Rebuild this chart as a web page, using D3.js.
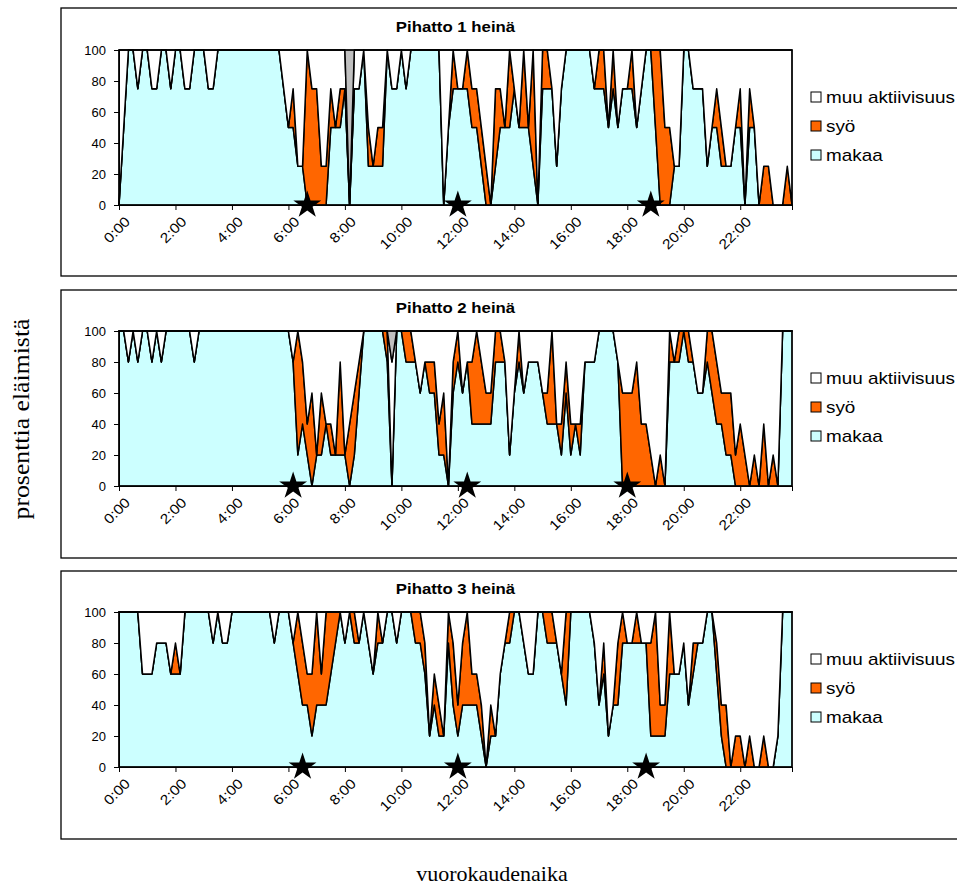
<!DOCTYPE html>
<html>
<head>
<meta charset="utf-8">
<script src="https://cdn.jsdelivr.net/npm/d3@7"></script>
<style>
  body { margin: 0; background: #fff; }
  svg { display: block; }
</style>
</head>
<body>
<div id="chart"></div>
<script>
// 10 minuutin havainnot 0:00 - 23:50
const times = d3.range(144).map(i => `${Math.floor(i / 6)}:${String((i % 6) * 10).padStart(2, "0")}`);
const tickLabels = ["0:00", "2:00", "4:00", "6:00", "8:00", "10:00", "12:00", "14:00", "16:00", "18:00", "20:00", "22:00"];
const yTicks = [0, 20, 40, 60, 80, 100];
const seriesNames = ["muu aktiivisuus", "syö", "makaa"];
const titles = ["Pihatto 1 heinä", "Pihatto 2 heinä", "Pihatto 3 heinä"];

// Pihatto 1
const makaa1 = [0,50,100,100,75,100,100,75,75,100, 100,75,100,100,75,75,100,100,100,75,
  75,100,100,100,100,100,100,100,100,100, 100,100,100,100,100,75,50,50,25,25,
  0,0,0,0,0,50,50,50,75,0, 75,75,100,25,25,25,25,100,75,75,
  100,75,100,100,100,100,100,100,100,0, 50,75,75,75,75,50,50,25,0,0,
  25,50,50,50,75,50,50,50,25,0, 75,75,75,25,75,100,100,100,100,100,
  100,75,75,75,50,75,50,75,75,75, 50,75,100,100,50,0,0,0,25,25,
  100,100,75,75,75,25,50,50,25,25, 25,50,50,0,50,50,0,0,0,0, 0,0,0,0];
const syo1 = [0,0,0,0,0,0,0,0,0,0, 0,0,0,0,0,0,0,0,0,0,
  0,0,0,0,0,0,0,0,0,0, 0,0,0,0,0,0,0,25,0,0,
  100,75,75,25,25,25,0,25,0,0, 0,0,0,25,0,25,25,0,0,0,
  0,0,0,0,0,0,0,0,0,0, 0,25,0,0,25,25,25,25,25,0,
  50,25,0,50,0,0,50,0,75,0, 25,25,0,0,0,0,0,0,0,0,
  0,0,25,25,0,25,0,0,0,25, 0,0,0,0,50,100,50,50,0,0,
  0,0,0,0,0,0,0,25,25,0, 0,0,25,0,25,0,0,25,25,0, 0,0,25,0];
const harmaa1 = [[49, 100]];
const tahdet1 = ["6:40", "12:00", "18:50"];

// Pihatto 2
const makaa2 = [100,100,80,100,80,100,100,80,100,80, 100,100,100,100,100,100,80,100,100,100,
  100,100,100,100,100,100,100,100,100,100, 100,100,100,100,100,100,100,80,20,40,
  20,0,20,20,40,20,20,20,20,0, 20,60,100,100,100,100,100,80,0,100,
  100,80,80,80,60,80,60,60,20,20, 0,60,80,60,80,40,40,40,40,40,
  80,80,80,20,60,80,60,80,80,80, 60,40,40,40,20,60,20,40,20,80,
  80,80,100,100,100,100,80,0,0,0, 0,0,0,0,0,0,0,80,80,80,
  100,80,80,60,60,80,60,40,40,20, 20,0,0,0,0,0,0,0,0,0, 0,100,100,100];
const syo2 = [0,0,0,0,0,0,0,0,0,0, 0,0,0,0,0,0,0,0,0,0,
  0,0,0,0,0,0,0,0,0,0, 0,0,0,0,0,0,0,0,80,40,
  20,60,0,40,0,20,0,60,0,40, 40,20,0,0,0,0,0,20,0,0,
  0,20,20,0,0,0,20,20,20,40, 0,20,20,0,0,40,60,40,20,20,
  20,20,0,0,0,20,0,0,0,0, 0,20,60,0,20,20,20,0,20,0,
  0,0,0,0,0,0,0,60,60,60, 80,40,40,20,0,20,0,20,0,20,
  0,20,0,0,0,20,40,40,20,40, 40,20,40,20,0,20,0,40,0,20, 0,0,0,0];
const harmaa2 = [[58, 20]];
const tahdet2 = ["6:10", "12:20", "18:00"];

// Pihatto 3
const makaa3 = [100,100,100,100,100,60,60,60,80,80, 80,60,60,60,100,100,100,100,100,100,
  80,100,80,80,100,100,100,100,100,100, 100,100,100,80,100,100,100,80,60,40,
  40,20,40,40,40,60,80,100,80,100, 80,80,100,80,60,80,80,100,100,80,
  100,100,100,80,80,60,20,40,20,20, 80,40,20,40,40,40,40,20,0,20,
  20,60,80,80,100,100,80,60,60,100, 100,80,80,80,60,40,100,100,100,100,
  100,80,40,60,20,40,40,80,80,80, 80,80,80,20,20,20,20,60,60,60,
  80,40,60,80,80,100,100,60,20,0, 0,0,0,0,0,0,0,0,0,0, 20,100,100,100];
const syo3 = [0,0,0,0,0,0,0,0,0,0, 0,0,20,0,0,0,0,0,0,0,
  0,0,0,0,0,0,0,0,0,0, 0,0,0,0,0,0,0,0,40,40,
  20,40,60,20,60,40,20,0,0,0, 20,0,0,0,0,20,0,0,0,0,
  0,0,0,20,20,20,0,20,20,0, 20,40,20,40,60,20,20,20,0,20,
  0,0,0,20,0,0,0,0,0,0, 0,20,20,0,0,60,0,0,0,0,
  0,0,0,20,0,0,40,20,0,0, 20,0,0,60,80,20,20,40,0,0,
  0,0,20,0,0,0,0,20,20,40, 0,20,20,0,20,0,0,20,0,0, 0,0,0,0];
const harmaa3 = [];
const tahdet3 = ["6:30", "12:00", "18:40"];

const panels = [
  { makaa: makaa1, syo: syo1, harmaa: harmaa1, tahdet: tahdet1 },
  { makaa: makaa2, syo: syo2, harmaa: harmaa2, tahdet: tahdet2 },
  { makaa: makaa3, syo: syo3, harmaa: harmaa3, tahdet: tahdet3 }
];

const colors = { makaa: "#CCFFFF", syo: "#FF6600", muu: "#FFFFFF", harmaa: "#C0C0C0" };
const legendColors = ["#FFFFFF", "#FF6600", "#CCFFFF"];

const sans = "'Liberation Sans', Arial, sans-serif";
const serif = "'Liberation Serif', 'Times New Roman', serif";

const plotLeft = 119, plotRight = 792, plotH = 155;
const plotTops = [50, 331, 612];
const boxTops = [8, 290, 571];

const svg = d3.select("#chart").append("svg")
  .attr("width", 957)
  .attr("height", 888)
  .style("font-family", sans);

const x = d3.scalePoint().domain(times).range([plotLeft, plotRight]);

panels.forEach((p, k) => {
  const top = plotTops[k];
  const y = d3.scaleLinear().domain([0, 100]).range([top + plotH, top]);

  // kehys
  svg.append("rect")
    .attr("x", 61).attr("y", boxTops[k])
    .attr("width", 1000).attr("height", 268)
    .attr("fill", "none").attr("stroke", "#000").attr("stroke-width", 1.3);

  svg.append("text")
    .attr("transform", `translate(${(plotLeft + plotRight) / 2},${top - 18}) scale(1.2,1)`)
    .attr("text-anchor", "middle")
    .attr("font-size", 14).attr("font-weight", "bold")
    .text(titles[k]);

  const grey = new Map(p.harmaa);
  const rows = times.map((t, i) => {
    const g = grey.get(i) || 0;
    return { t, makaa: p.makaa[i], syo: p.syo[i], harmaa: g, muu: 100 - p.makaa[i] - p.syo[i] - g };
  });

  const stacked = d3.stack().keys(["makaa", "syo", "muu", "harmaa"])(rows);

  const area = d3.area()
    .x(d => x(d.data.t))
    .y0(d => y(d[0]))
    .y1(d => y(d[1]));

  const g = svg.append("g");

  g.selectAll("path.serie")
    .data(stacked)
    .join("path")
    .attr("class", "serie")
    .attr("fill", d => colors[d.key])
    .attr("stroke", "#000")
    .attr("stroke-width", 1.5)
    .attr("stroke-linejoin", "round")
    .attr("d", area);

  // plot area border
  g.append("rect")
    .attr("x", plotLeft).attr("y", top)
    .attr("width", plotRight - plotLeft).attr("height", plotH)
    .attr("fill", "none").attr("stroke", "#000").attr("stroke-width", 1);

  // y axis
  const ya = g.append("g")
    .attr("transform", `translate(${plotLeft},0)`)
    .call(d3.axisLeft(y).tickValues(yTicks).tickSize(5).tickPadding(8).tickSizeOuter(0));
  ya.selectAll("text").attr("font-size", 13).attr("fill", "#000").style("font-family", sans);
  ya.selectAll("line, path").attr("stroke", "#000");

  // x axis
  const xTickVals = times.filter((t, i) => i % 12 === 0).concat([times[times.length - 1]]);
  const xa = g.append("g")
    .attr("transform", `translate(0,${top + plotH})`)
    .call(d3.axisBottom(x)
      .tickValues(xTickVals)
      .tickSize(5)
      .tickSizeOuter(0)
      .tickFormat(t => {
        const i = times.indexOf(t);
        return i % 12 === 0 ? tickLabels[i / 12] : "";
      }));
  xa.selectAll("line, path").attr("stroke", "#000");
  xa.selectAll("text")
    .attr("font-size", 14)
    .attr("fill", "#000")
    .style("font-family", sans)
    .attr("text-anchor", "end")
    .attr("x", 0).attr("y", 0).attr("dy", "0.35em")
    .attr("transform", "translate(8,14) rotate(-45) scale(1.12,1)");

  // syöttöajat
  g.selectAll("path.star")
    .data(p.tahdet)
    .join("path")
    .attr("class", "star")
    .attr("transform", t => `translate(${x(t)},${y(0)})`)
    .attr("d", d3.symbol(d3.symbolStar, 240))
    .attr("fill", "#000");

  // legend
  const lg = svg.append("g").attr("transform", `translate(811,${top + 42})`);
  seriesNames.forEach((name, j) => {
    lg.append("rect")
      .attr("x", 0).attr("y", j * 29)
      .attr("width", 10).attr("height", 10)
      .attr("fill", legendColors[j]).attr("stroke", "#000").attr("stroke-width", 1);
    lg.append("text")
      .attr("transform", `translate(15,${j * 29 + 5}) scale(1.18,1)`)
      .attr("dy", "0.35em")
      .attr("font-size", 16)
      .text(name);
  });
});

svg.append("text")
  .attr("transform", "translate(29,419) rotate(-90) scale(1.12,1)")
  .attr("text-anchor", "middle")
  .style("font-family", serif)
  .attr("font-size", 23)
  .text("prosenttia eläimistä");

svg.append("text")
  .attr("x", 492).attr("y", 881)
  .attr("text-anchor", "middle")
  .style("font-family", serif)
  .attr("font-size", 22)
  .text("vuorokaudenaika");
</script>
</body>
</html>
